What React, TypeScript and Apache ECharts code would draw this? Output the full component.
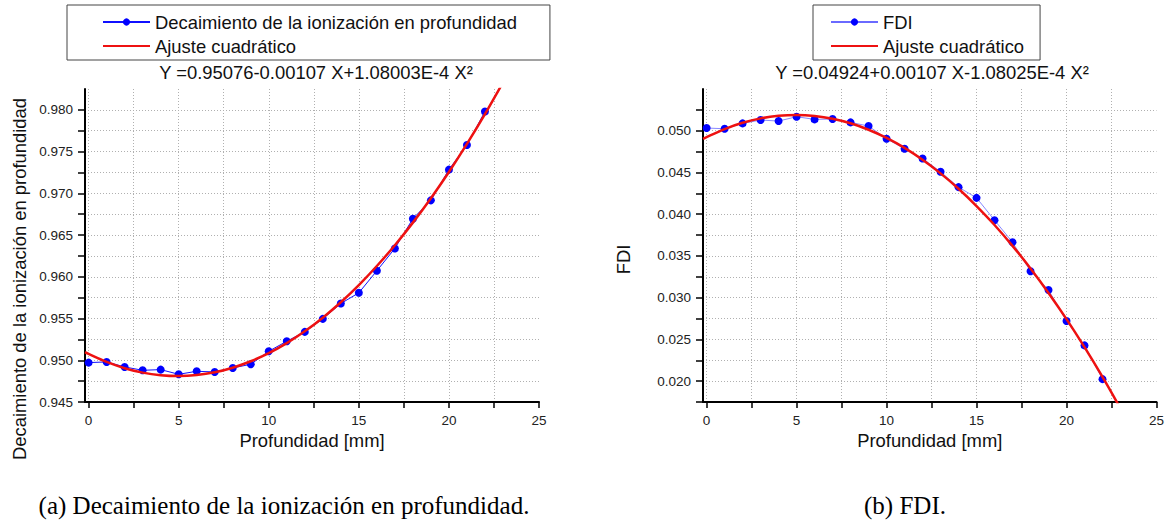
import React, { useEffect, useRef } from 'react';
import * as echarts from 'echarts';

// ---- data ----
const depthX = [0, 1, 2, 3, 4, 5, 6, 7, 8, 9, 10, 11, 12, 13, 14, 15, 16, 17, 18, 19, 20, 21, 22];
const ionization = [
  0.94972, 0.9498, 0.9492, 0.9488, 0.94888, 0.94832, 0.94868, 0.9486, 0.94908, 0.94952, 0.95108,
  0.95228, 0.9534, 0.95496, 0.9568, 0.95808, 0.96072, 0.9634, 0.96696, 0.96916, 0.97284, 0.9758, 0.9798,
];
const fdi = [
  0.05032, 0.05024, 0.05088, 0.05128, 0.05116, 0.05168, 0.05136, 0.0514, 0.051, 0.05056, 0.04904,
  0.04784, 0.04668, 0.04508, 0.04324, 0.04196, 0.03928, 0.03664, 0.03316, 0.03092, 0.0272, 0.02428, 0.02024,
];
const fitX = [-0.2, 0, 1, 2, 3, 4, 5, 6, 7, 8, 9, 10, 11, 12, 13, 14, 15, 16, 17, 18, 19, 20, 21, 22, 23];
const ionizationFit = [
  0.95098, 0.95076, 0.9498, 0.94905, 0.94852, 0.94821, 0.94811, 0.94823, 0.94856, 0.94911, 0.94988,
  0.95086, 0.95206, 0.95347, 0.9551, 0.95695, 0.95901, 0.96129, 0.96378, 0.96649, 0.96942, 0.97256,
  0.97592, 0.97949, 0.98328,
];
const fdiFit = [
  0.04902, 0.04924, 0.0502, 0.05095, 0.05148, 0.05179, 0.05189, 0.05177, 0.05144, 0.05089, 0.05012,
  0.04914, 0.04794, 0.04652, 0.04489, 0.04305, 0.04098, 0.03871, 0.03621, 0.0335, 0.03057, 0.02743,
  0.02407, 0.0205, 0.01671,
];
const xTickValues = [0, 2.5, 5, 7.5, 10, 12.5, 15, 17.5, 20, 22.5, 25];
const xLabelValues = [0, 5, 10, 15, 20, 25];

const nameIon = 'Decaimiento de la ionización en profundidad';
const nameFdi = 'FDI';
const nameFit = 'Ajuste cuadrático';
const eqIon = 'Y =0.95076-0.00107 X+1.08003E-4 X²';
const eqFdi = 'Y =0.04924+0.00107 X-1.08025E-4 X²';
const captionA = '(a) Decaimiento de la ionización en profundidad.';
const captionB = '(b) FDI.';
const xName = 'Profundidad [mm]';

const SANS = '"Liberation Sans", Arial, sans-serif';
const SERIF = '"Liberation Serif", "DejaVu Serif", serif';
const BIG = 18.4;

const gridLine = { show: true, lineStyle: { color: '#b0b0b0', width: 1, type: [1, 2] as any } };

function xAxisFor(gridIndex: number) {
  return {
    type: 'value',
    gridIndex,
    min: -0.2,
    max: 25,
    name: xName,
    nameLocation: 'middle',
    nameGap: 24,
    nameTextStyle: { fontFamily: SANS, fontSize: BIG, color: '#111' },
    axisLine: { show: true, onZero: false, lineStyle: { color: '#000', width: 2 } },
    axisTick: { show: true, customValues: xTickValues, length: 6, lineStyle: { color: '#000', width: 1.5 } },
    axisLabel: {
      customValues: xLabelValues,
      fontFamily: SANS,
      fontSize: 13.5,
      color: '#222',
      margin: 11,
    },
    splitLine: { ...gridLine, showMaxLine: false },
  };
}

function yAxisFor(gridIndex: number, min: number, max: number, name: string, nameGap: number, shift: number) {
  return {
    type: 'value',
    gridIndex,
    min,
    max,
    interval: 0.0025,
    name,
    nameLocation: 'middle',
    nameGap,
    nameTextStyle: { fontFamily: SANS, fontSize: BIG, color: '#111', padding: [0, shift, 0, 0] },
    axisLine: { show: true, onZero: false, lineStyle: { color: '#000', width: 2 } },
    axisTick: { show: true, length: 7, lineStyle: { color: '#000', width: 1.5 } },
    axisLabel: {
      fontFamily: SANS,
      fontSize: 13.5,
      color: '#222',
      margin: 12,
      showMaxLabel: false,
      formatter: (v: number) => (Math.round(v / 0.0025) % 2 === 0 ? v.toFixed(3) : ''),
    },
    splitLine: { ...gridLine, showMaxLine: false, showMinLine: false },
  };
}

function legendFor(mainName: string, left: number, padding: number[]) {
  return {
    data: [mainName, { name: nameFit, itemStyle: { opacity: 0 } }],
    orient: 'vertical',
    left,
    top: 5,
    padding,
    itemGap: 6,
    itemWidth: 47,
    itemHeight: 9,
    borderColor: '#444',
    borderWidth: 1,
    backgroundColor: '#fff',
    selectedMode: false,
    textStyle: { fontFamily: SANS, fontSize: BIG, color: '#111' },
  };
}

export default function App() {
  const ref = useRef<HTMLDivElement>(null);

  useEffect(() => {
    if (!ref.current) return;
    const chart = echarts.init(ref.current, undefined, { renderer: 'svg' });
    const option: any = {
      animation: false,
      backgroundColor: '#fff',
      textStyle: { fontFamily: SANS },
      title: [
        {
          text: eqIon,
          left: 316,
          top: 63,
          padding: 0,
          textAlign: 'center',
          textStyle: { fontFamily: SANS, fontSize: BIG, fontWeight: 'normal', color: '#111' },
        },
        {
          text: eqFdi,
          left: 932,
          top: 63,
          padding: 0,
          textAlign: 'center',
          textStyle: { fontFamily: SANS, fontSize: BIG, fontWeight: 'normal', color: '#111' },
        },
      ],
      legend: [legendFor(nameIon, 67, [8, 33, 5, 35]), legendFor(nameFdi, 813, [8, 16, 5, 17])],
      grid: [
        { left: 85, top: 89, width: 454, height: 313, containLabel: false },
        { left: 703, top: 89, width: 454, height: 313, containLabel: false },
      ],
      xAxis: [xAxisFor(0), xAxisFor(1)],
      yAxis: [
        yAxisFor(0, 0.945, 0.9825, nameIon, 57, 67),
        yAxisFor(1, 0.0175, 0.055, nameFdi, 71, 28),
      ],
      series: [
        {
          type: 'line',
          name: nameIon,
          xAxisIndex: 0,
          yAxisIndex: 0,
          data: depthX.map((x, i) => [x, ionization[i]]),
          symbol: 'circle',
          symbolSize: 8,
          lineStyle: { color: '#1010ff', width: 1 },
          itemStyle: { color: '#0000ff' },
          z: 2,
        },
        {
          type: 'line',
          name: nameFit,
          xAxisIndex: 0,
          yAxisIndex: 0,
          data: fitX.map((x, i) => [x, ionizationFit[i]]),
          symbol: 'none',
          smooth: 0.3,
          clip: true,
          lineStyle: { color: '#ee1111', width: 2.5 },
          itemStyle: { color: '#ee1111' },
          z: 3,
        },
        {
          type: 'line',
          name: nameFdi,
          xAxisIndex: 1,
          yAxisIndex: 1,
          data: depthX.map((x, i) => [x, fdi[i]]),
          symbol: 'circle',
          symbolSize: 8,
          lineStyle: { color: '#6a6aff', width: 0.8 },
          itemStyle: { color: '#0000ff' },
          z: 2,
        },
        {
          type: 'line',
          name: nameFit,
          xAxisIndex: 1,
          yAxisIndex: 1,
          data: fitX.map((x, i) => [x, fdiFit[i]]),
          symbol: 'none',
          smooth: 0.3,
          clip: true,
          lineStyle: { color: '#ee1111', width: 2.5 },
          itemStyle: { color: '#ee1111' },
          z: 3,
        },
      ],
      graphic: [
        {
          type: 'text',
          x: 284,
          y: 505,
          style: {
            text: captionA,
            fontFamily: SERIF,
            fontSize: 25,
            fill: '#000',
            textAlign: 'center',
            textVerticalAlign: 'middle',
            align: 'center',
            verticalAlign: 'middle',
          },
        },
        {
          type: 'text',
          x: 905,
          y: 505,
          style: {
            text: captionB,
            fontFamily: SERIF,
            fontSize: 25,
            fill: '#000',
            textAlign: 'center',
            textVerticalAlign: 'middle',
            align: 'center',
            verticalAlign: 'middle',
          },
        },
      ],
    };
    chart.setOption(option);
    return () => chart.dispose();
  }, []);

  return (
    <div
      ref={ref}
      style={{ position: 'absolute', left: 0, top: 0, width: 1167, height: 527, background: '#fff' }}
    />
  );
}
